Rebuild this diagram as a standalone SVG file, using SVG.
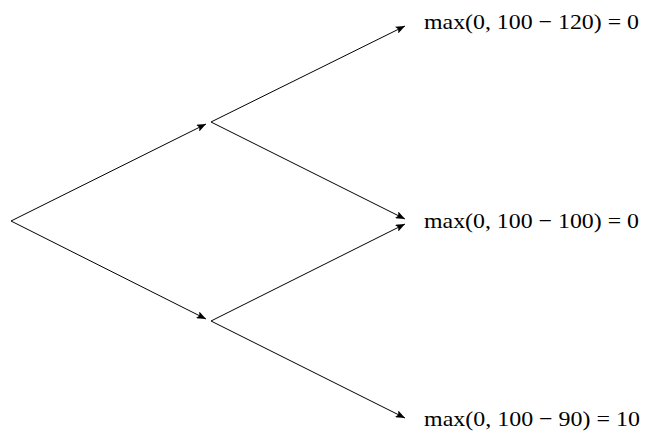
<svg xmlns="http://www.w3.org/2000/svg" width="645" height="433" viewBox="0 0 645 433">
<defs>
<style>
.edge{stroke:#000;stroke-width:1;fill:none;marker-end:url(#arr)}
.lbl{font-family:"Liberation Serif","DejaVu Serif",serif;font-size:22px;fill:#000}
</style>
<marker id="arr" viewBox="0 0 10 8" refX="10" refY="4" markerWidth="10" markerHeight="7.5" markerUnits="userSpaceOnUse" orient="auto">
<path d="M0,0 L10,4 L0,8 L2,4 Z" fill="#000"/>
</marker>
</defs>
<rect width="645" height="433" fill="#fff"/>
<g id="connectors">
<line class="edge" x1="11" y1="221" x2="206" y2="124"/>
<line class="edge" x1="11" y1="221" x2="206" y2="319"/>
<line class="edge" x1="211" y1="122" x2="405" y2="26"/>
<line class="edge" x1="211" y1="122" x2="405" y2="219"/>
<line class="edge" x1="211" y1="321" x2="405" y2="224"/>
<line class="edge" x1="211" y1="321" x2="405" y2="418"/>
</g>
<g id="leaf-top"><text class="lbl" x="424" y="29" textLength="215" lengthAdjust="spacingAndGlyphs">max(0, 100 − 120) = 0</text></g>
<g id="leaf-mid"><text class="lbl" x="424" y="228" textLength="215" lengthAdjust="spacingAndGlyphs">max(0, 100 − 100) = 0</text></g>
<g id="leaf-bot"><text class="lbl" x="424" y="426" textLength="216" lengthAdjust="spacingAndGlyphs">max(0, 100 − 90) = 10</text></g>
</svg>
